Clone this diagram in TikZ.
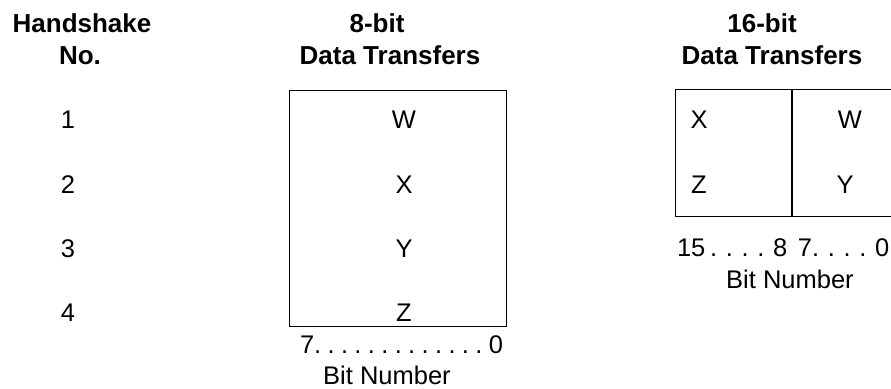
\documentclass[tikz,border=0pt]{standalone}
\usepackage{fontspec}
\setmainfont{Liberation Sans}
\usepackage{tikz}
\usetikzlibrary{positioning}
\tikzset{head/.style={
    font=\fontsize{26}{30}\selectfont\bfseries,
    anchor=base,
    inner sep=0pt,
}}
\tikzset{txt/.style={
    font=\fontsize{25.5}{30}\selectfont,
    anchor=base,
    inner sep=0pt,
}}
\tikzset{cell/.style={
    draw,
    line width=0.9pt,
    anchor=north west,
    inner sep=0pt,
}}
\newcommand{\bitdots}[1]{\foreach \i in {1,...,#1}{\hfill.}}

\begin{document}
\begin{tikzpicture}[
                x=1pt,
                y=-1pt
        ]
            \useasboundingbox (0,0) rectangle (891,388);

            % headings
            \node[head] (hs) at (82,32) {Handshake};
            \node[head] (hsno) at (80,64) {No.};
            \node[head] (eight) at (377,32) {8-bit};
            \node[head] (eightdt) at (390,64) {Data Transfers};
            \node[head] (sixteen) at (762,32) {16-bit};
            \node[head] (sixteendt) at (772,64) {Data Transfers};

            % handshake numbers
            \foreach \n/\y in {1/128,2/193,3/257,4/321}
                \node[txt] (num\n) at (68,\y) {\n};

            % 8-bit transfers
            \node[cell, minimum width=217pt, minimum height=236pt] (byte) at (289,90) {};
            \foreach \c/\y in {W/128,X/193,Y/257,Z/321}
                \node[txt] (byte\c) at (404,\y) {\c};
            \node[txt] (byterange) at (401.5,353) {\makebox[203pt]{7.\bitdots{12}\hfill0}};
            \node[txt] (bytebits) at (387,384) {Bit Number};

            % 16-bit transfers
            \node[cell, minimum width=116pt, minimum height=127pt] (hi) at (675,89) {};
            \node[cell, minimum width=99pt, minimum height=127pt, right=0pt of hi] (lo) {};
            \node[txt] (hiX) at (699,128) {X};
            \node[txt] (hiZ) at (699,193) {Z};
            \node[txt] (loW) at (850,128) {W};
            \node[txt] (loY) at (845,193) {Y};
            \node[txt] (wordrange) at (782,256) {\makebox[210pt][s]{15 . . . . 8\hspace{6pt} 7. . . . 0}};
            \node[txt] (wordbits) at (790,288) {Bit Number};

        \end{tikzpicture}
\end{document}
